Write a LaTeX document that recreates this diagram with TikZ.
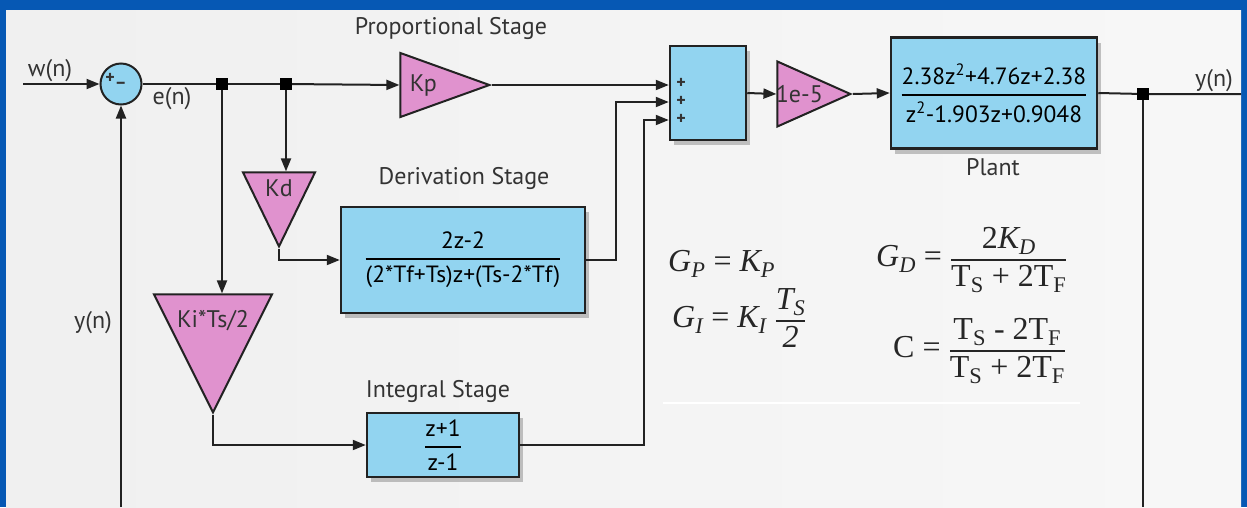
\documentclass[tikz,border=0pt]{standalone}
\usepackage{fontspec}
\usepackage{amsmath}
\setmainfont{PT Sans}
\newfontfamily\eqfont{Liberation Serif}
\usetikzlibrary{shapes.geometric,arrows.meta,positioning,shadows}

\definecolor{frameblue}{RGB}{6,88,180}
\definecolor{blockblue}{RGB}{146,212,240}
\definecolor{gainpink}{RGB}{224,146,206}
\definecolor{wirecol}{RGB}{34,34,34}

\newcommand{\lo}[1]{\textsubscript{#1}}
\newcommand{\gfrac}[3]{\genfrac{}{}{#1}{0}{\text{#2}}{\text{#3}}}

\tikzset{
  wire/.style={draw=wirecol, line width=2pt},
  sig/.style={wire, -{Triangle[length=13pt,width=10pt]}},
  blk/.style={draw=wirecol, line width=2.5pt, fill=blockblue, inner sep=0pt,
    drop shadow={shadow xshift=4pt, shadow yshift=-5pt, opacity=0.22, fill=black}},
  gain/.style={isosceles triangle, isosceles triangle stretches, draw=wirecol,
    line width=2pt, fill=gainpink, inner sep=0pt},
  tap/.style={fill=black, minimum size=12pt, inner sep=0pt},
  lbl/.style={font=\fontsize{24}{28}\selectfont, text=black!80, inner sep=0pt},
  sgn/.style={font=\fontsize{18}{18}\selectfont\bfseries, text=black!80, inner sep=0pt},
  eqn/.style={font=\fontsize{32}{36}\selectfont\eqfont, text=black!85, inner sep=0pt},
}

\begin{document}
\begin{tikzpicture}[x=1pt,y=-1pt]
	% frame and background
	\fill [frameblue] (0,0) rectangle (1247,507);
	\shade [left color=black!6, middle color=white, right color=black!3] (6,10) rectangle (1241,507);
	\useasboundingbox (0,0) rectangle (1247,507);
	\draw [white, line width=2pt] (663,403) -- (1080,403);

	% blocks
	\node [circle, draw=wirecol, line width=2pt, fill=blockblue, minimum size=41pt, inner sep=0pt] (sum) at (121,84) {};
	\node [sgn] (sumsign) at (116,81) {+\raisebox{-5pt}{–}};
	\node [tap] (j1) at (222,84) {};
	\node [tap] (j2) at (286,84) {};
	\node [gain, minimum width=64pt, minimum height=89pt, anchor=apex] (kp) at (492,85) {};
	\node [gain, shape border rotate=270, minimum width=72pt, minimum height=74pt, anchor=apex] (kd) at (279,249) {};
	\node [gain, shape border rotate=270, minimum width=118pt, minimum height=118pt, anchor=apex] (ki) at (213,415) {};
	\node [blk, minimum width=76pt, minimum height=94pt] (add) at (708,93) {};
	\node [gain, minimum width=65pt, minimum height=73pt, anchor=apex] (kf) at (853,94) {};
	\node [blk, minimum width=206pt, minimum height=111pt] (plant) at (994,93)
		{\fontsize{23.5}{28}\selectfont$\gfrac{2pt}{2.38z\textsuperscript{2}+4.76z+2.38}{z\textsuperscript{2}-1.903z+0.9048}$};
	\node [blk, minimum width=244pt, minimum height=106pt] (deriv) at (463,260)
		{\fontsize{23.5}{28}\selectfont$\gfrac{2pt}{2z-2}{(2*Tf+Ts)z+(Ts-2*Tf)}$};
	\node [blk, minimum width=152pt, minimum height=64pt] (integ) at (443,445)
		{\fontsize{23.5}{28}\selectfont$\gfrac{2pt}{z+1}{z-1}$};
	\node [tap] (j3) at (1143,94) {};

	% texts
	\node [lbl] (kptext) at ([xshift=24pt]kp.lower side) {Kp};
	\node [lbl] (kdtext) at ([yshift=-17pt]kd.lower side) {Kd};
	\node [lbl] (kitext) at ([yshift=-27pt]ki.lower side) {Ki*Ts/2};
	\node [lbl] (kftext) at ([xshift=23pt]kf.lower side) {1e-5};
	\node [sgn] (plus1) at (681,83) {+};
	\node [sgn] (plus2) at (681,101) {+};
	\node [sgn] (plus3) at (681,119) {+};
	\node [lbl] (lblprop) at (451,28) {Proportional Stage};
	\node [lbl] (lblderiv) at (464,178) {Derivation Stage};
	\node [lbl] (lblint) at (438,391) {Integral Stage};
	\node [lbl] (lblplant) at (993,167) {Plant};
	\node [lbl] (lblw) at (50,71) {w(n)};
	\node [lbl] (lble) at (172,99) {e(n)};
	\node [lbl] (lblyout) at (1214,81) {y(n)};
	\node [lbl] (lblyfb) at (93,323) {y(n)};

	% equations
	\node [eqn, anchor=west] (eqgp) at (668,264) {\itshape G\lo{P} \upshape= \itshape K\lo{P}};
	\node [eqn, anchor=west] (eqgi) at (672,318)
		{\itshape G\lo{I} \upshape= \itshape K\lo{I} $\gfrac{1.5pt}{\itshape T\lo{S}}{2}$};
	\node [eqn, anchor=west] (eqgd) at (876,260)
		{\itshape G\lo{D} \upshape= $\gfrac{1.5pt}{2\itshape K\lo{D}}{T\lo{S} + 2T\lo{F}}$};
	\node [eqn, anchor=west] (eqc) at (893,351)
		{C = $\gfrac{1.5pt}{T\lo{S} - 2T\lo{F}}{T\lo{S} + 2T\lo{F}}$};

	% connectors
	\coordinate (win) at (23,84);
	\coordinate (yend) at (1241,94);
	\coordinate (fbr) at (1143,507);
	\coordinate (fbl) at (121,507);
	\coordinate (in2) at ([yshift=-9pt]add.west);
	\coordinate (in3) at ([yshift=-27pt]add.west);
	\draw [sig] (win) -- (sum.west);
	\draw [wire] (sum.east) -- (j1) -- (j2);
	\draw [sig] (j2) -- (kp.lower side);
	\draw [sig] (kp.apex) -- (kp.apex -| add.west);
	\draw [sig] (j2) -- (j2 |- kd.lower side);
	\draw [sig] (kd.apex) |- (deriv.west);
	\draw [sig] (deriv.east) -- ++(30,0) |- (in2);
	\draw [sig] (j1) -- (j1 |- ki.lower side);
	\draw [sig] (ki.apex) |- (integ.west);
	\draw [sig] (integ.east) -- ++(124,0) |- (in3);
	\draw [sig] (add.east) -- (kf.lower side);
	\draw [sig] (kf.apex) -- (plant.west);
	\draw [wire] (plant.east) -- (j3) -- (yend);
	\draw [wire] (j3) -- (fbr);
	\draw [sig] (fbl) -- (sum.south);
\end{tikzpicture}
\end{document}
